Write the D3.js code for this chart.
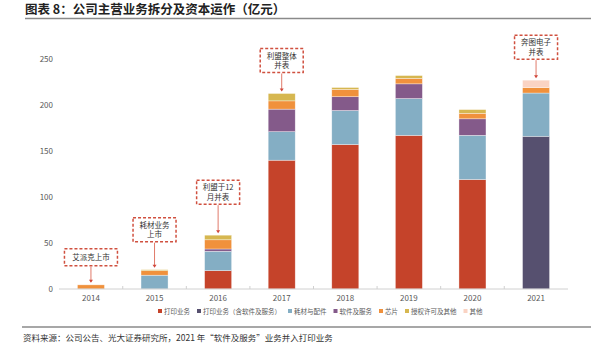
<!DOCTYPE html>
<html>
<head>
<meta charset="utf-8">
<script src="https://cdn.jsdelivr.net/npm/d3@7"></script>
<style>
  body { margin: 0; background: #fff; }
  svg { display: block; font-family: "Noto Sans CJK SC", "Noto Sans", sans-serif; }
</style>
</head>
<body>
<div class="svg-container"></div>
<script>
// categories / series
var years = ["2014", "2015", "2016", "2017", "2018", "2019", "2020", "2021"];
var seriesNames = ["打印业务", "打印业务（含软件及服务）", "耗材与配件", "软件及服务", "芯片", "授权许可及其他", "其他"];
var seriesColors = ["#C5432A", "#56506F", "#84AEC4", "#845A8A", "#F0913C", "#D6B750", "#FAD3C3"];

// values (亿元), one array per series, in order of years
var printing        = [0, 0, 20, 140, 157, 167, 119, 0];
var printingWithSw  = [0, 0, 0, 0, 0, 0, 0, 166];
var consumables     = [0, 15, 21, 31, 37, 40, 48, 47];
var software        = [0, 0, 2.5, 24.5, 15, 16, 18, 0];
var chips           = [4.5, 5, 10, 9, 8, 6, 6, 6];
var licensing       = [0, 1, 5, 8, 2, 3, 4, 0];
var others          = [0, 0, 0, 0, 0, 0, 0, 8];

var yTicks = [0, 50, 100, 150, 200, 250];

// annotations
var noteYears = ["2014", "2015", "2016", "2017", "2021"];
var noteTexts = [["艾派克上市"], ["耗材业务", "上市"], ["利盟于12", "月并表"], ["利盟整体", "并表"], ["奔图电子", "并表"]];
var noteGaps  = [19, 28, 31, 21, 21];

var W = 591, H = 353;

var svg = d3.select(".svg-container").append("svg")
    .attr("width", W)
    .attr("height", H);

// title
svg.append("text")
    .attr("x", 25).attr("y", 14)
    .attr("font-size", 12.5).attr("font-weight", "bold").attr("fill", "#222")
    .text("图表 8：公司主营业务拆分及资本运作（亿元）");
svg.append("line")
    .attr("x1", 25).attr("x2", W).attr("y1", 18.5).attr("y2", 18.5)
    .attr("stroke", "#8a8a8a").attr("stroke-width", 1.5);

// scales
var x = d3.scaleBand().domain(years).range([59, 568])
    .paddingInner(0.575).paddingOuter(0.29);
var y = d3.scaleLinear().domain([0, 250]).range([289, 59]);

// build table for stack
var cols = [printing, printingWithSw, consumables, software, chips, licensing, others];
var table = years.map(function(yr, i) {
    var row = { year: yr };
    seriesNames.forEach(function(n, k) { row[n] = cols[k][i]; });
    return row;
});
var stacked = d3.stack().keys(seriesNames)(table);

// bars
svg.append("g").selectAll("g")
    .data(stacked)
    .enter().append("g")
    .attr("fill", function(d, i) { return seriesColors[i]; })
    .selectAll("rect")
    .data(function(d) { return d; })
    .enter().append("rect")
    .filter(function(d) { return d[1] - d[0] > 0; })
    .attr("x", function(d) { return x(d.data.year); })
    .attr("width", x.bandwidth())
    .attr("y", function(d) { return y(d[1]); })
    .attr("height", function(d) { return y(d[0]) - y(d[1]); })
    .attr("stroke", "#fff").attr("stroke-opacity", 0.6).attr("stroke-width", 0.6);

// x axis
svg.append("line")
    .attr("x1", 59).attr("x2", 568).attr("y1", y(0)).attr("y2", y(0))
    .attr("stroke", "#d0d0d0").attr("stroke-width", 1);
svg.append("g").selectAll("line")
    .data(years.slice(1))
    .enter().append("line")
    .attr("x1", function(d) { return x(d) - x.step() * x.paddingInner() / 2; })
    .attr("x2", function(d) { return x(d) - x.step() * x.paddingInner() / 2; })
    .attr("y1", y(0)).attr("y2", y(0) - 3)
    .attr("stroke", "#d0d0d0");
svg.append("g").selectAll("text")
    .data(years)
    .enter().append("text")
    .attr("x", function(d) { return x(d) + x.bandwidth() / 2; })
    .attr("y", y(0) + 12)
    .attr("text-anchor", "middle")
    .attr("font-size", 8).attr("fill", "#595959")
    .text(function(d) { return d; });

// y labels
svg.append("g").selectAll("text")
    .data(yTicks)
    .enter().append("text")
    .attr("x", 53)
    .attr("y", function(d) { return y(d) + 3; })
    .attr("text-anchor", "end")
    .attr("font-size", 8).attr("fill", "#595959")
    .text(function(d) { return d; });

// annotations
var totals = years.map(function(yr, i) {
    return d3.sum(cols, function(c) { return c[i]; });
});
noteYears.forEach(function(yr, i) {
    var lines = noteTexts[i];
    var cx = x(yr) + x.bandwidth() / 2;
    var top = y(totals[years.indexOf(yr)]);
    var bh = lines.length === 1 ? 17 : 24;
    var bw = lines.length === 1 ? 53 : 43;
    var bottom = top - noteGaps[i];
    var g = svg.append("g");
    g.append("line")
        .attr("x1", cx).attr("x2", cx)
        .attr("y1", bottom + 1).attr("y2", top - 3)
        .attr("stroke", "#E07A6A").attr("stroke-width", 1);
    g.append("path")
        .attr("d", "M" + (cx - 2) + "," + (top - 5) + "L" + (cx + 2) + "," + (top - 5) + "L" + cx + "," + (top - 2) + "Z")
        .attr("fill", "#D0463A");
    g.append("rect")
        .attr("x", cx - bw / 2).attr("y", bottom - bh)
        .attr("width", bw).attr("height", bh)
        .attr("fill", "#fff")
        .attr("stroke", "#D0503F").attr("stroke-width", 1.5)
        .attr("stroke-dasharray", "3,2");
    g.selectAll("text")
        .data(lines)
        .enter().append("text")
        .attr("x", cx)
        .attr("y", function(d, k) {
            return lines.length === 1 ? bottom - 5.5 : bottom - bh + 10 + k * 9.5;
        })
        .attr("text-anchor", "middle")
        .attr("font-size", 7.5).attr("fill", "#333")
        .text(function(d) { return d; });
});

// legend
var lx = 158;
seriesNames.forEach(function(n, i) {
    svg.append("rect")
        .attr("x", lx).attr("y", 309)
        .attr("width", 4).attr("height", 4)
        .attr("fill", seriesColors[i]);
    var t = svg.append("text")
        .attr("x", lx + 6).attr("y", 313.5)
        .attr("font-size", 6.5).attr("fill", "#595959")
        .text(n);
    lx += 6 + t.node().getComputedTextLength() + 7;
});

// footer
svg.append("line")
    .attr("x1", 22).attr("x2", W).attr("y1", 327).attr("y2", 327)
    .attr("stroke", "#8a8a8a").attr("stroke-width", 1.5);
svg.append("text")
    .attr("x", 23).attr("y", 341)
    .attr("font-size", 8.5).attr("fill", "#333")
    .text("资料来源：公司公告、光大证券研究所，2021 年“软件及服务”业务并入打印业务");
</script>
</body>
</html>
